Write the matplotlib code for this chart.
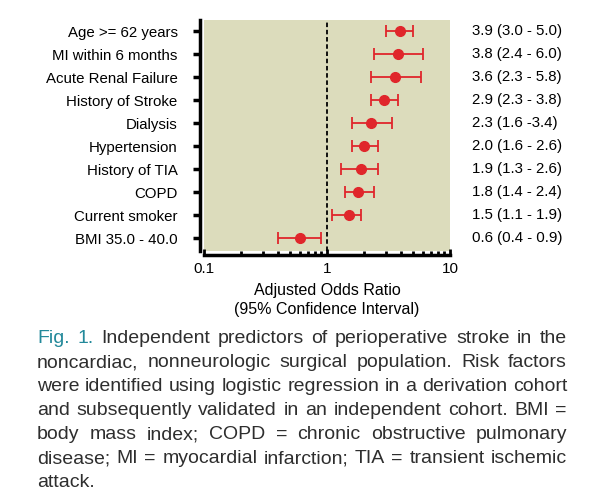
import numpy as np
import matplotlib.pyplot as plt
from matplotlib.ticker import LogLocator, NullFormatter, FixedLocator, FixedFormatter

plt.rcParams['font.family'] = ['Liberation Sans', 'DejaVu Sans']

factors = ['Age >= 62 years', 'MI within 6 months', 'Acute Renal Failure',
           'History of Stroke', 'Dialysis', 'Hypertension', 'History of TIA',
           'COPD', 'Current smoker', 'BMI 35.0 - 40.0']
odds = [3.9, 3.8, 3.6, 2.9, 2.3, 2.0, 1.9, 1.8, 1.5, 0.6]
lower = [3.0, 2.4, 2.3, 2.3, 1.6, 1.6, 1.3, 1.4, 1.1, 0.4]
upper = [5.0, 6.0, 5.8, 3.8, 3.4, 2.6, 2.6, 2.4, 1.9, 0.9]
ci_labels = ['3.9 (3.0 - 5.0)', '3.8 (2.4 - 6.0)', '3.6 (2.3 - 5.8)',
             '2.9 (2.3 - 3.8)', '2.3 (1.6 -3.4)', '2.0 (1.6 - 2.6)',
             '1.9 (1.3 - 2.6)', '1.8 (1.4 - 2.4)', '1.5 (1.1 - 1.9)',
             '0.6 (0.4 - 0.9)']

caption_lines = [
    "Fig. 1. Independent predictors of perioperative stroke in the",
    "noncardiac, nonneurologic surgical population. Risk factors",
    "were identified using logistic regression in a derivation cohort",
    "and subsequently validated in an independent cohort. BMI =",
    "body mass index; COPD = chronic obstructive pulmonary",
    "disease; MI = myocardial infarction; TIA = transient ischemic",
    "attack.",
]

W, H = 590, 499
fig = plt.figure(figsize=(W / 100, H / 100), dpi=100)
ax = fig.add_axes([204 / W, 1 - 251 / H, 246 / W, 231 / H])
ax.set_facecolor('#dcdcbc')

y = np.arange(len(factors))
odds = np.array(odds)
err = [odds - np.array(lower), np.array(upper) - odds]
ax.errorbar(odds, y, xerr=err, fmt='o', color='#e0262b', ms=7,
            ecolor='#e0262b', elinewidth=1.3, capsize=4, capthick=1.3)
ax.axvline(1, color='black', ls=(0, (2.5, 1.5)), lw=1.3)

ax.set_xscale('log')
ax.set_xlim(0.1, 10)
ax.set_ylim(len(factors) - 0.45, -0.5)

for s in ['top', 'right']:
    ax.spines[s].set_visible(False)
ax.spines['left'].set_position(('outward', 3))
ax.spines['bottom'].set_position(('outward', 3))
ax.spines['left'].set_linewidth(2.5)
ax.spines['bottom'].set_linewidth(2.5)

ax.set_yticks(y)
ax.set_yticklabels(factors, fontsize=10.8)
ax.tick_params(axis='y', length=5, width=2.5, pad=11, direction='out')
ax.xaxis.set_major_locator(FixedLocator([0.1, 1, 10]))
ax.xaxis.set_major_formatter(FixedFormatter(['0.1', '1', '10']))
ax.xaxis.set_minor_locator(LogLocator(base=10, subs=np.arange(2, 10)))
ax.xaxis.set_minor_formatter(NullFormatter())
ax.tick_params(axis='x', which='major', direction='in', length=4, width=2,
               labelsize=11, pad=5)
ax.tick_params(axis='x', which='minor', direction='in', length=3, width=2)
ax.set_xlabel('Adjusted Odds Ratio\n(95% Confidence Interval)', fontsize=11.5,
              labelpad=5, linespacing=1.35)

for yi, lab in zip(y, ci_labels):
    ax.annotate(lab, xy=(472 / W, yi), xycoords=('figure fraction', 'data'),
                va='center', ha='left', fontsize=10.8)

# justified caption, line breaks as in the original
left_px, right_px = 37, 567
renderer = fig.canvas.get_renderer()
txt_color = '#2e2e2e'
fig_color = '#23899a'

def width_of(s, size):
    t = fig.text(0, 0, s, fontsize=size)
    w = t.get_window_extent(renderer).width
    t.remove()
    return w

# pick a size so the longest line fills the column
size = 12 * (right_px - left_px - 2) / width_of(caption_lines[2], 12)
space_w = width_of('a b', size) - width_of('ab', size)

base0 = 343
for i, line in enumerate(caption_lines):
    words = line.split(' ')
    ws = [width_of(x, size) for x in words]
    if i < len(caption_lines) - 1 and len(words) > 1:
        gap = (right_px - left_px - sum(ws)) / (len(words) - 1)
    else:
        gap = space_w
    x = left_px
    for j, (wd, w) in enumerate(zip(words, ws)):
        c = fig_color if (i == 0 and j < 2) else txt_color
        fig.text(x / W, 1 - (base0 + 24 * i) / H, wd, fontsize=size, color=c,
                 va='baseline', ha='left')
        x += w + gap

fig.savefig('out.png', dpi=100)
